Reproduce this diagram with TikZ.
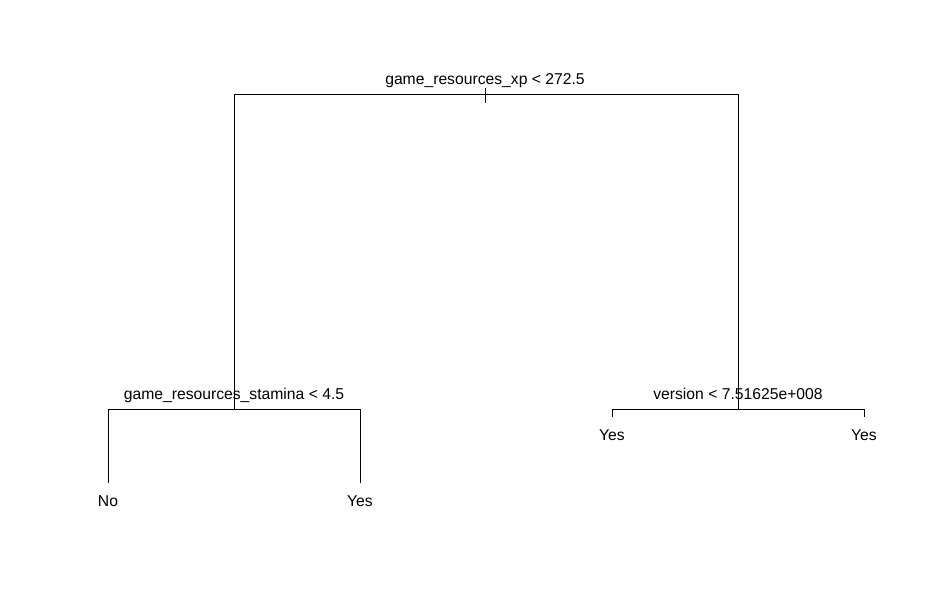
\documentclass[tikz,border=0pt]{standalone}
\usepackage{fontspec}
\setmainfont{Liberation Sans}
\usepackage{tikz}
\usetikzlibrary{positioning}

\begin{document}
\begin{tikzpicture}[
    x=1pt, y=-1pt,
    branch/.style={draw, line width=1pt},
    splitlabel/.style={anchor=base, inner sep=0pt, font=\fontsize{15.7}{18}\selectfont},
    leaflabel/.style={anchor=base, inner sep=0pt, font=\fontsize{15.7}{18}\selectfont}
]
    \useasboundingbox (0,0) rectangle (935,596);

    % split points
    \coordinate (root) at (485.5,94.5);
    \coordinate (stamina) at (234.5,409.5);
    \coordinate (version) at (738.5,409.5);
    % leaves
    \coordinate (leafno) at (108.5,483);
    \coordinate (leafyesa) at (360.5,483);
    \coordinate (leafyesb) at (612.5,417);
    \coordinate (leafyesc) at (864.5,417);

    \draw[branch] (stamina) |- (root) -| (version);
    \draw[branch] ([yshift=6pt]root) -- ([yshift=-9pt]root);
    \draw[branch] (leafno) |- (stamina) -| (leafyesa);
    \draw[branch] (leafyesb) |- (version) -| (leafyesc);

    \node[splitlabel] (rootlabel) at (485,85) {game\_resources\_xp < 272.5};
    \node[splitlabel] (staminalabel) at (234,399) {game\_resources\_stamina < 4.5};
    \node[splitlabel] (versionlabel) at (738,399.5) {version < 7.51625e+008};

    \node[leaflabel] (no) at (108,506.5) {No};
    \node[leaflabel] (yesa) at (360,506.5) {Yes};
    \node[leaflabel] (yesb) at (612,440.5) {Yes};
    \node[leaflabel] (yesc) at (864,440.5) {Yes};
\end{tikzpicture}
\end{document}
